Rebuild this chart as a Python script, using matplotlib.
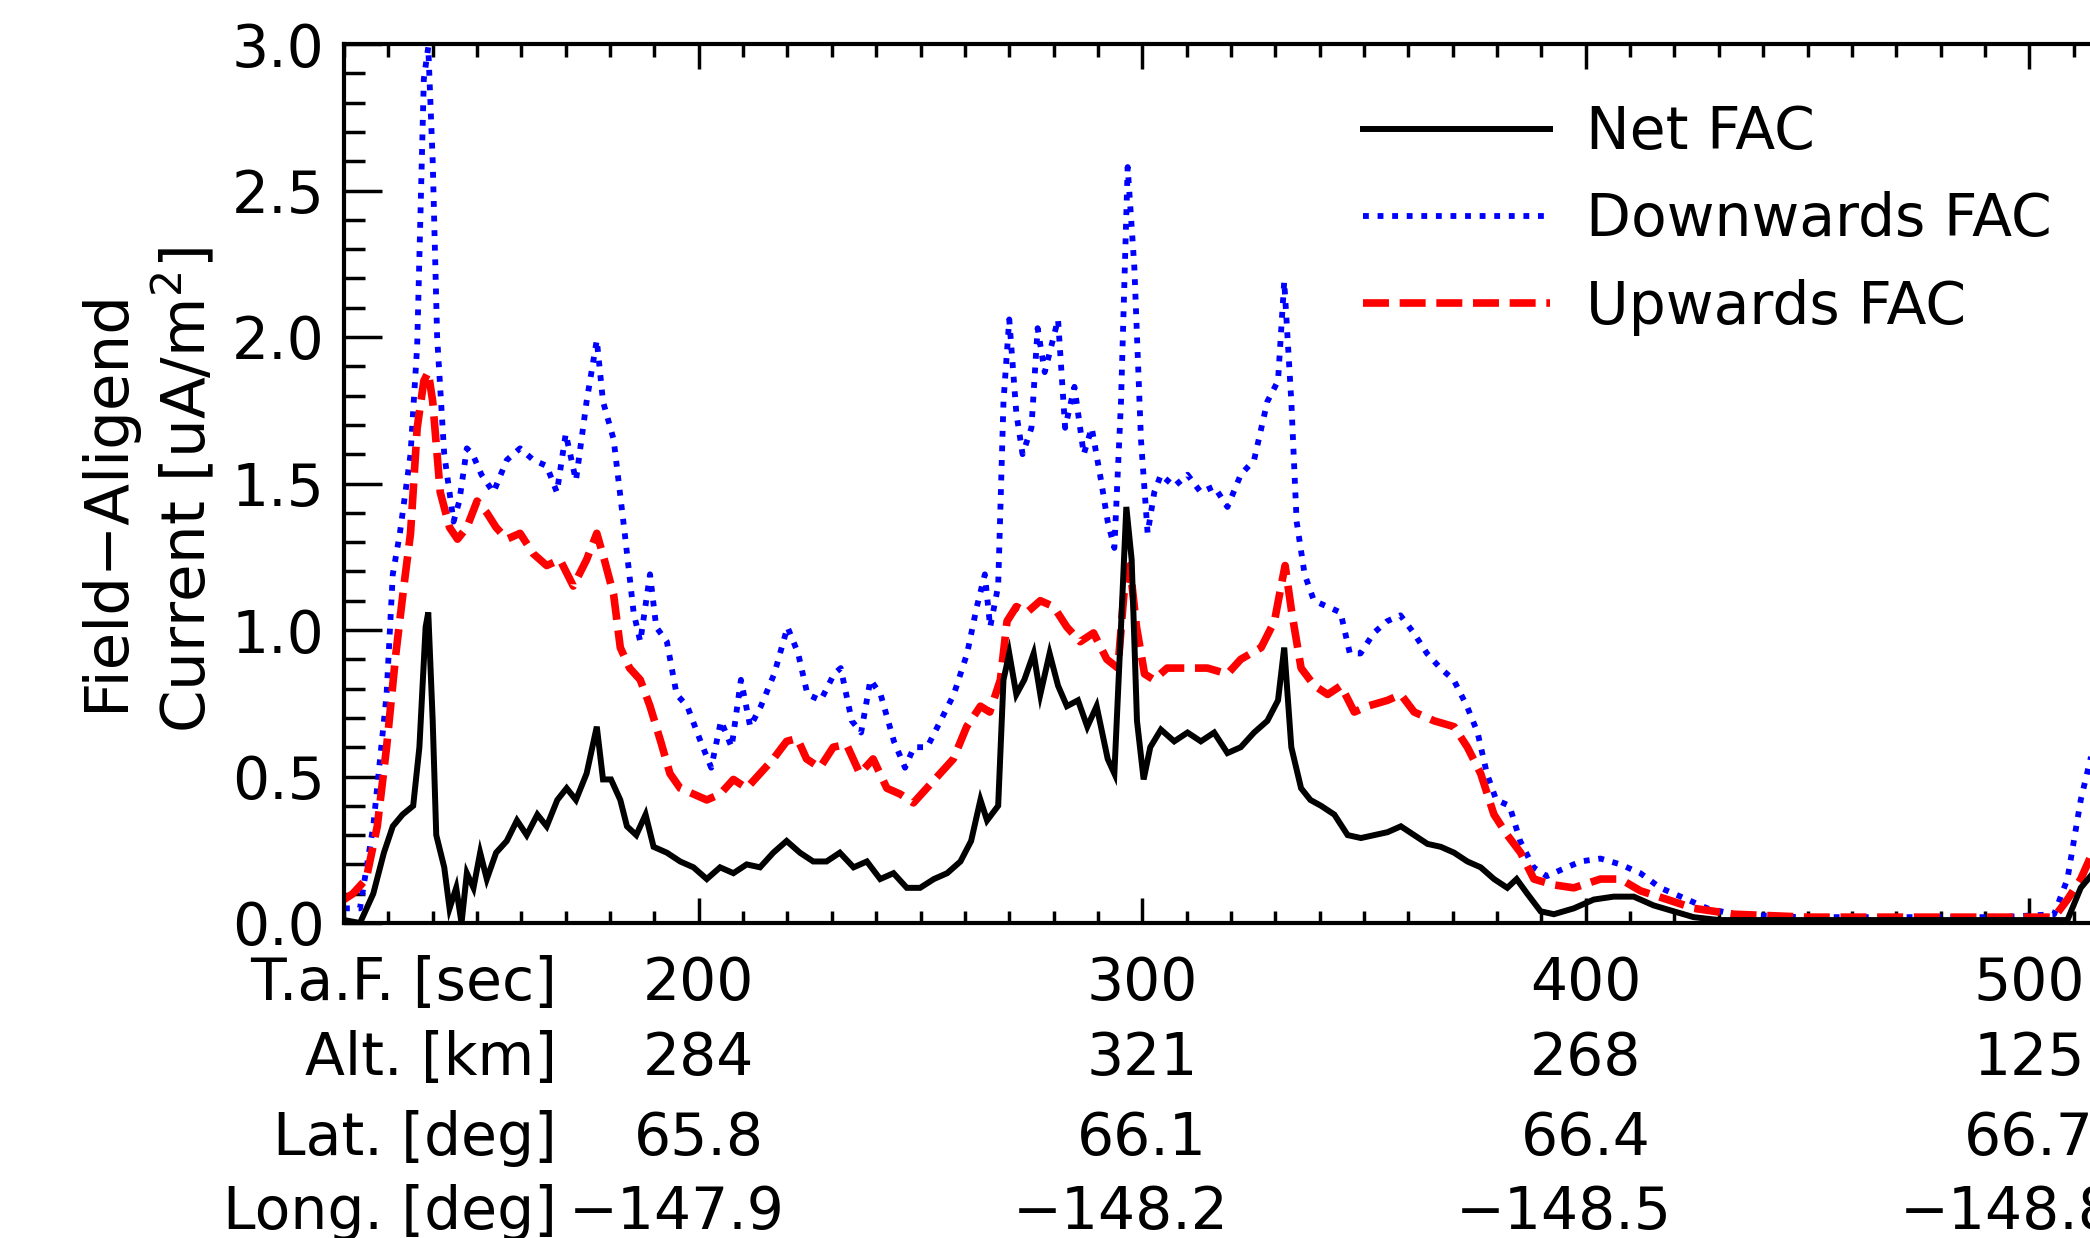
import matplotlib
matplotlib.use("Agg")
import matplotlib.pyplot as plt
from matplotlib.ticker import MultipleLocator, FormatStrFormatter
from matplotlib.transforms import blended_transform_factory, ScaledTranslation

plt.rcParams['font.family'] = ['DejaVu Sans']

# ---------------- data ----------------
t_down = [120, 123.6, 126.6, 129.6, 131, 132.6, 135, 136.5, 138, 139, 140, 141, 142.6, 144.7, 146,
          147.7, 149, 151, 153.7, 156.7, 159.7, 162.7, 165.7, 168, 170, 172.3, 174.7, 177, 178.4,
          180.8, 183.3, 185.3, 186.8, 189, 190.4, 192.8, 195, 197.4, 200.4, 202.8, 205, 207.4,
          209.5, 211.6, 214, 217, 220, 222.4, 224.5, 227.5, 230.5, 232, 234.5, 236.6, 238.7, 241,
          244, 246.5, 248.5, 251.5, 254.5, 257.5, 260.5, 262.7, 264.5, 265.7, 267.5, 268.7, 270,
          271.6, 273, 275, 276.4, 278, 279.5, 281, 282.6, 284.7, 286.8, 288.6, 290.7, 292.2,
          293.7, 295.2, 296.7, 298.2, 299.7, 301.2, 302.7, 304.2, 307.2, 310.2, 313.2, 316.2,
          319.2, 322.2, 325.2, 328.2, 330.6, 332, 333.6, 334.8, 336.6, 338.7, 341.7, 344.7,
          346.8, 349.2, 352.2, 355.2, 358.2, 361.2, 364.2, 367.2, 370.2, 373.2, 375.6, 377.7,
          379.8, 382.8, 385.2, 388.2, 391.2, 394.2, 398.8, 403.3, 407.8, 412.3, 416.8, 421.4,
          427.4, 433.4, 448, 463, 478.6, 493.6, 505.6, 508.6, 511.6, 516]
v_down = [0.05, 0.05, 0.33, 0.78, 1.19, 1.33, 1.60, 1.97, 2.88, 2.99, 2.60, 2.00, 1.60, 1.37, 1.44,
          1.62, 1.60, 1.53, 1.47, 1.58, 1.62, 1.58, 1.56, 1.47, 1.67, 1.51, 1.78, 1.99, 1.78,
          1.65, 1.33, 1.06, 0.96, 1.19, 1.01, 0.96, 0.78, 0.74, 0.62, 0.53, 0.69, 0.60,
          0.83, 0.67, 0.74, 0.85, 1.01, 0.92, 0.78, 0.76, 0.85, 0.87, 0.69, 0.65, 0.83, 0.78,
          0.62, 0.53, 0.60, 0.60, 0.69, 0.78, 0.92, 1.08, 1.19, 1.01, 1.15, 1.78, 2.06,
          1.74, 1.60, 1.69, 2.03, 1.88, 1.97, 2.06, 1.69, 1.83, 1.60, 1.69, 1.51, 1.37,
          1.28, 1.78, 2.58, 2.24, 1.65, 1.33, 1.47, 1.53, 1.49, 1.53, 1.47, 1.49,
          1.42, 1.53, 1.58, 1.78, 1.85, 2.19, 1.78, 1.37, 1.19, 1.10, 1.08, 1.06,
          0.92, 0.92, 0.99, 1.03, 1.05, 0.99, 0.92, 0.87, 0.83, 0.74, 0.65, 0.51,
          0.42, 0.40, 0.28, 0.19, 0.16, 0.18, 0.21, 0.22, 0.20, 0.17, 0.12, 0.09,
          0.05, 0.03, 0.02, 0.02, 0.02, 0.02, 0.03, 0.15, 0.42, 0.70]

t_up = [120, 122, 125, 127.5, 129.6, 131.7, 133.5, 135, 136.5, 138, 139, 140, 141.7, 143.8, 145.6,
        147.7, 150, 152.2, 154.3, 156.7, 159.7, 162.7, 165.7, 168.7, 171.7, 174.7, 177, 178.7,
        180.8, 182.3, 184.4, 186.8, 189, 191.4, 193.5, 195.8, 198.8, 201.8, 204.8, 207.8,
        210.8, 213.8, 216.8, 219.8, 222.2, 224.3, 227.3, 230.3, 233.3, 236.3, 239.3, 242.4,
        245.4, 248.4, 251.4, 254.4, 257.4, 260.4, 263.5, 265.6, 268, 269.5, 271.6, 274, 277,
        280, 283, 286, 289, 292, 294.5, 296, 297.2, 298.7, 300.5, 302.6, 305.6, 310.2, 314.7,
        319.2, 322.2, 326.8, 329.8, 331.3, 332.2, 333.7, 335.8, 338.8, 341.8, 344.8, 347.8,
        350.8, 355.3, 358.3, 361.3, 365.8, 370.3, 373.3, 376.3, 379.3, 382.3, 385.3, 388.3,
        392.8, 397.3, 403.3, 407.8, 412.3, 418.4, 424.4, 433.4, 450, 470, 490, 505.6, 508.6,
        511.6, 516]
v_up = [0.08, 0.10, 0.15, 0.33, 0.60, 0.92, 1.15, 1.33, 1.69, 1.85, 1.88, 1.78, 1.47, 1.35, 1.31,
        1.35, 1.44, 1.40, 1.35, 1.31, 1.33, 1.26, 1.22, 1.24, 1.15, 1.24, 1.33, 1.24,
        1.12, 0.94, 0.87, 0.83, 0.74, 0.62, 0.51, 0.46, 0.44, 0.42, 0.44, 0.49,
        0.46, 0.51, 0.56, 0.62, 0.63, 0.56, 0.53, 0.60, 0.61, 0.51, 0.56, 0.46,
        0.44, 0.41, 0.46, 0.51, 0.56, 0.67, 0.74, 0.72, 0.83, 1.03, 1.08, 1.06, 1.10,
        1.08, 1.01, 0.96, 0.99, 0.90, 0.87, 1.15, 1.22, 1.01, 0.85, 0.83, 0.87, 0.87, 0.87,
        0.85, 0.90, 0.94, 1.03, 1.15, 1.22, 1.06, 0.87, 0.81, 0.78, 0.81, 0.72,
        0.74, 0.76, 0.78, 0.72, 0.69, 0.67, 0.60, 0.51, 0.37, 0.30, 0.24, 0.15,
        0.13, 0.12, 0.15, 0.15, 0.11, 0.08, 0.05, 0.03, 0.02, 0.02, 0.02, 0.02, 0.08,
        0.15, 0.30]

t_net = [120, 123.6, 126.6, 129, 131, 133.2, 135.6, 137, 138.4, 139, 140, 140.8, 142.6, 143.8, 145.3,
         146.5, 147.7, 149.2, 150.7, 152.2, 154.3, 156.7, 159, 161.2, 163.6, 165.7, 168.1,
         170.2, 172.3, 174.7, 177, 178.4, 180.2, 182.3, 183.8, 185.9, 188, 189.8, 192.8, 195.8,
         198.8, 201.8, 204.8, 207.8, 210.8, 213.8, 216.8, 219.8, 222.8, 225.8, 228.8, 231.8,
         234.9, 237.9, 240.9, 243.9, 246.9, 249.9, 253, 256, 259, 261.4, 263.5, 265, 267.5,
         268.7, 270, 271.6, 273.4, 275.5, 277, 279.1, 281, 283, 285.5, 287.6, 289.7, 292.2,
         293.7, 295.2, 296.4, 297.6, 298.8, 300.3, 301.8, 304.2, 307.2, 310.2, 313.2, 316.2,
         319.2, 322.2, 325.2, 328.2, 330.6, 332, 333.6, 335.8, 337.9, 340.3, 343.3, 346.3,
         349.3, 352.3, 355.3, 358.3, 361.3, 364.3, 367.3, 370.3, 373.3, 376.3, 379.3, 382.3,
         384.4, 386.8, 389.8, 392.8, 397.3, 401.8, 406.3, 410.8, 415.3, 419.8, 424.3, 430,
         450, 470, 490, 508.6, 511.6, 516]
v_net = [0.01, 0.00, 0.10, 0.24, 0.33, 0.37, 0.40, 0.60, 1.01, 1.06, 0.69, 0.30, 0.19, 0.05, 0.12,
         0.00, 0.17, 0.12, 0.24, 0.15, 0.24, 0.28, 0.35, 0.30, 0.37, 0.33, 0.42,
         0.46, 0.42, 0.51, 0.67, 0.49, 0.49, 0.42, 0.33, 0.30, 0.37, 0.26, 0.24, 0.21,
         0.19, 0.15, 0.19, 0.17, 0.20, 0.19, 0.24, 0.28, 0.24, 0.21, 0.21, 0.24,
         0.19, 0.21, 0.15, 0.17, 0.12, 0.12, 0.15, 0.17, 0.21, 0.28, 0.42, 0.35, 0.40,
         0.83, 0.92, 0.78, 0.83, 0.92, 0.78, 0.92, 0.81, 0.74, 0.76, 0.67, 0.74, 0.56,
         0.51, 1.01, 1.42, 1.24, 0.69, 0.49, 0.60, 0.66, 0.62, 0.65, 0.62, 0.65,
         0.58, 0.60, 0.65, 0.69, 0.76, 0.94, 0.60, 0.46, 0.42, 0.40, 0.37, 0.30,
         0.29, 0.30, 0.31, 0.33, 0.30, 0.27, 0.26, 0.24, 0.21, 0.19, 0.15, 0.12,
         0.15, 0.10, 0.04, 0.03, 0.05, 0.08, 0.09, 0.09, 0.06, 0.04, 0.02, 0.01,
         0.01, 0.01, 0.01, 0.01, 0.12, 0.20]

series_labels = ["Net FAC", "Downwards FAC", "Upwards FAC"]

tick_times = [200, 300, 400, 500]
tick_alt = ["284", "321", "268", "125"]
tick_lat = ["65.8", "66.1", "66.4", "66.7"]
tick_lon = ["\u2212147.9", "\u2212148.2", "\u2212148.5", "\u2212148.8"]
row_labels = ["T.a.F. [sec]", "Alt. [km]", "Lat. [deg]", "Long. [deg]"]

# ---------------- figure ----------------
W, H = 2090, 1238
fig = plt.figure(figsize=(W / 100, H / 100), dpi=100)
fs = 42

ax_left = 344 / W
ax_bottom = (H - 923) / H
ax_height = (923 - 44) / H
xmin, xmax = 120, 560
px_per_sec = 4.435
ax_width = (xmax - xmin) * px_per_sec / W
ax = fig.add_axes([ax_left, ax_bottom, ax_width, ax_height])

ax.plot(t_net, v_net, color='black', lw=4.3, solid_joinstyle='miter', label=series_labels[0], zorder=3)
ax.plot(t_down, v_down, color='blue', lw=4.2, linestyle=(0, (1.0, 1.5)), label=series_labels[1], zorder=2)
ax.plot(t_up, v_up, color='red', lw=5.5, linestyle=(0, (3.4, 1.4)), label=series_labels[2], zorder=2)

ax.set_xlim(xmin, xmax)
ax.set_ylim(0, 3.0)

for s in ax.spines.values():
    s.set_linewidth(3)

ax.xaxis.set_major_locator(MultipleLocator(100))
ax.xaxis.set_minor_locator(MultipleLocator(10))
ax.yaxis.set_major_locator(MultipleLocator(0.5))
ax.yaxis.set_minor_locator(MultipleLocator(0.1))
ax.yaxis.set_major_formatter(FormatStrFormatter('%.1f'))
ax.set_xticklabels([])
ax.tick_params(axis='x', which='both', direction='in', top=True, bottom=True, labelbottom=False)
ax.tick_params(axis='x', which='major', length=18, width=2.5)
ax.tick_params(axis='x', which='minor', length=9, width=2.5)
ax.tick_params(axis='y', which='both', direction='in', left=True, right=True)
ax.tick_params(axis='y', which='major', length=27, width=2.5, labelsize=fs, pad=14)
ax.tick_params(axis='y', which='minor', length=15, width=2.5)

# table under the x axis
row_y = [1000, 1075, 1155, 1229]
row_shift = [0, 0, 0, -22]   # pixel shift of the value column (wide minus sign in the original)
rows = [[str(t) for t in tick_times], tick_alt, tick_lat, tick_lon]
trans = blended_transform_factory(ax.transData, fig.transFigure)
for ry, lab, vals, dx in zip(row_y, row_labels, rows, row_shift):
    yf = 1 - ry / H
    fig.text(557 / W, yf, lab, ha='right', va='baseline', fontsize=fs)
    tr = trans + ScaledTranslation(dx / 100, 0, fig.dpi_scale_trans)
    for tt, val in zip(tick_times, vals):
        ax.text(tt, yf, val, transform=tr, ha='center', va='baseline', fontsize=fs, clip_on=False)

# y label (two lines)
fig.text(107 / W, 1 - 500 / H, "Field\u2212Aligend", rotation=90, ha='center', va='center', fontsize=44)
fig.text(185 / W, 1 - 490 / H, "Current [uA/m$^2$]", rotation=90, ha='center', va='center', fontsize=44)

leg = ax.legend(loc='upper left', bbox_to_anchor=(1363 / W, 1 - 104 / H), bbox_transform=fig.transFigure,
                frameon=False, fontsize=fs, handlelength=3.2, handletextpad=0.62,
                labelspacing=0.52, borderpad=0, borderaxespad=0)

fig.savefig("out.png", dpi=100)
